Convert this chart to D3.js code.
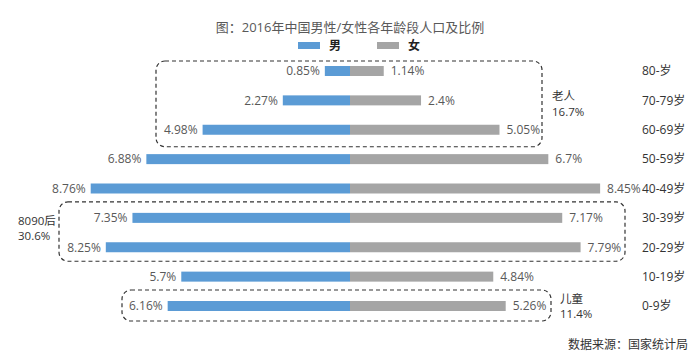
<!DOCTYPE html>
<html>
<head>
<meta charset="utf-8">
<script src="https://cdn.jsdelivr.net/npm/d3@7"></script>
<style>
  html, body { margin: 0; padding: 0; background: #fff; }
  svg { display: block; }
  text { font-family: "Open Sans", "Noto Sans CJK SC", sans-serif; }
</style>
</head>
<body>
<script>
const title = "图：2016年中国男性/女性各年龄段人口及比例";
const source = "数据来源：国家统计局";
const ageGroups = ["80-岁", "70-79岁", "60-69岁", "50-59岁", "40-49岁", "30-39岁", "20-29岁", "10-19岁", "0-9岁"];
const maleValues = [0.85, 2.27, 4.98, 6.88, 8.76, 7.35, 8.25, 5.7, 6.16];
const femaleValues = [1.14, 2.4, 5.05, 6.7, 8.45, 7.17, 7.79, 4.84, 5.26];
const maleLabels = ["0.85%", "2.27%", "4.98%", "6.88%", "8.76%", "7.35%", "8.25%", "5.7%", "6.16%"];
const femaleLabels = ["1.14%", "2.4%", "5.05%", "6.7%", "8.45%", "7.17%", "7.79%", "4.84%", "5.26%"];
const seriesNames = ["男", "女"];
const groups = [
  { name: "老人", share: "16.7%", from: "80-岁", to: "60-69岁" },
  { name: "8090后", share: "30.6%", from: "30-39岁", to: "20-29岁" },
  { name: "儿童", share: "11.4%", from: "0-9岁", to: "0-9岁" }
];

const W = 696, H = 357, cx = 350;
const blue = "#5B9BD5", gray = "#A5A5A5";

const svg = d3.select("body").append("svg").attr("width", W).attr("height", H);

const y = d3.scalePoint().domain(ageGroups).range([71, 306]);
const x = d3.scaleLinear().domain([0, 10]).range([0, 296]);
const barH = 10;

// title
svg.append("text").attr("x", cx).attr("y", 32).attr("text-anchor", "middle")
  .attr("font-size", 13).attr("fill", "#595959").text(title);

// legend
const legend = [{ name: seriesNames[0], color: blue, x: 298 }, { name: seriesNames[1], color: gray, x: 377 }];
legend.forEach(l => {
  svg.append("rect").attr("x", l.x).attr("y", 42).attr("width", 22).attr("height", 7).attr("fill", l.color);
  svg.append("text").attr("x", l.x + 31).attr("y", 50).attr("font-size", 12).attr("font-weight", "bold")
    .attr("fill", "#222").text(l.name);
});

const rows = ageGroups.map((a, i) => ({ age: a, m: maleValues[i], f: femaleValues[i], ml: maleLabels[i], fl: femaleLabels[i] }));

// bars
svg.selectAll("rect.male").data(rows).enter().append("rect").attr("class", "male")
  .attr("x", d => cx - x(d.m)).attr("y", d => y(d.age) - barH / 2)
  .attr("width", d => x(d.m)).attr("height", barH).attr("fill", blue);
svg.selectAll("rect.female").data(rows).enter().append("rect").attr("class", "female")
  .attr("x", cx).attr("y", d => y(d.age) - barH / 2)
  .attr("width", d => x(d.f)).attr("height", barH).attr("fill", gray);

// value labels
svg.selectAll("text.ml").data(rows).enter().append("text").attr("class", "ml")
  .attr("x", d => cx - x(d.m) - 5).attr("y", d => y(d.age)).attr("dy", "0.36em")
  .attr("text-anchor", "end").attr("font-size", 12).attr("fill", "#595959").text(d => d.ml);
svg.selectAll("text.fl").data(rows).enter().append("text").attr("class", "fl")
  .attr("x", d => cx + x(d.f) + 7).attr("y", d => y(d.age)).attr("dy", "0.36em")
  .attr("font-size", 12).attr("fill", "#595959").text(d => d.fl);

// age labels
svg.selectAll("text.age").data(ageGroups).enter().append("text").attr("class", "age")
  .attr("x", 642).attr("y", d => y(d)).attr("dy", "0.36em")
  .attr("font-size", 12).attr("fill", "#333").text(d => d);

// dashed group boxes
const boxes = [
  { g: groups[0], x0: 156, x1: 542, pad0: 10, pad1: 17, lx: 552, off: -8 },
  { g: groups[1], x0: 59, x1: 625, pad0: 16, pad1: 14, lx: 18, off: -11 },
  { g: groups[2], x0: 122, x1: 551, pad0: 16, pad1: 15, lx: 560, off: -7 }
];
boxes.forEach(b => {
  const y0 = y(b.g.from) - b.pad0, y1 = y(b.g.to) + b.pad1;
  svg.append("rect").attr("x", b.x0).attr("y", y0).attr("width", b.x1 - b.x0).attr("height", y1 - y0)
    .attr("rx", 9).attr("ry", 9).attr("fill", "none").attr("stroke", "#333")
    .attr("stroke-width", 1.2).attr("stroke-dasharray", "4,3");
  const mid = (y0 + y1) / 2;
  svg.append("text").attr("x", b.lx).attr("y", mid + b.off).attr("dy", "0.36em")
    .attr("font-size", 11.5).attr("fill", "#333").text(b.g.name);
  svg.append("text").attr("x", b.lx).attr("y", mid + b.off + 15.5).attr("dy", "0.36em")
    .attr("font-size", 11.5).attr("fill", "#333").text(b.g.share);
});

// source
svg.append("text").attr("x", 688).attr("y", 349).attr("text-anchor", "end")
  .attr("font-size", 12).attr("fill", "#333").text(source);
</script>
</body>
</html>
